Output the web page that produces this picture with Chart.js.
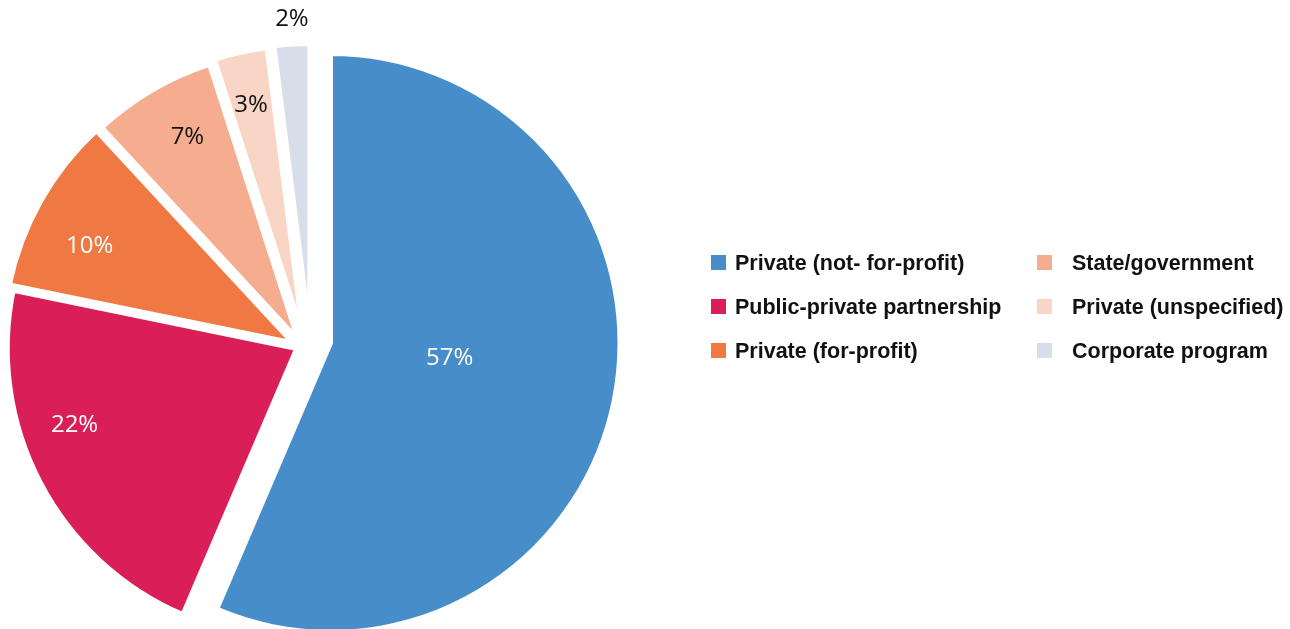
<!DOCTYPE html>
<html>
<head>
<meta charset="utf-8">
<script src="https://cdn.jsdelivr.net/npm/chart.js@4.4.1/dist/chart.umd.min.js"></script>
<style>
  html, body { margin: 0; padding: 0; background: #ffffff; overflow: hidden; }
  #wrap { position: relative; width: 1290px; height: 629px; }
  #pie { position: absolute; left: 0; top: 0; }
  .lg-item { position: absolute; height: 26px; line-height: 26px; white-space: nowrap;
             font-family: "Liberation Sans", Arial, sans-serif; font-weight: bold; font-size: 21.5px; color: #111111; }
  .lg-box { position: absolute; top: 5px; width: 15px; height: 15px; }
  .lg-text { position: absolute; top: 0; }
</style>
</head>
<body>
<div id="wrap">
  <canvas id="pie" width="1290" height="629"></canvas>
  <div id="legend"></div>
</div>
<script>
// ---- data ----
const categories = [
  'Private (not- for-profit)',
  'Public-private partnership',
  'Private (for-profit)',
  'State/government',
  'Private (unspecified)',
  'Corporate program'
];
const shares = [57, 22, 10, 7, 3, 2];

// ---- style ----
const colors = ['#468dca', '#da1f58', '#ef7843', '#f5ac8f', '#f9d5c6', '#d8dee9'];
const labelColors = ['#ffffff', '#ffffff', '#ffffff', '#111111', '#111111', '#111111'];
// how far each slice is pulled away from the pie centre (px, [dx, dy])
const explodeShift = [[24.5, 0], [-9.2, 5.5], [-13, 0], [-7.8, -3], [-3, -8], [3.8, -10]];
const labelRadius = [0.415, 0.812, 0.778, 0.797, 0.813, 1.085]; // fraction of radius
const labelTurn = [-4.4, 8.6, -3.9, 1.6, -0.3, 0.3];             // degrees off the bisector

const explodePlugin = {
  id: 'explode',
  beforeDatasetsDraw(chart) {
    const a = chart.chartArea;
    const cx = (a.left + a.right) / 2, cy = (a.top + a.bottom) / 2;
    chart.getDatasetMeta(0).data.forEach((arc, i) => {
      arc.x = cx + explodeShift[i][0];
      arc.y = cy + explodeShift[i][1];
    });
  }
};

const labelPlugin = {
  id: 'sliceLabels',
  afterDatasetsDraw(chart) {
    const ctx = chart.ctx;
    const ds = chart.data.datasets[0];
    ctx.save();
    ctx.font = '24px "Open Sans", "Noto Sans", sans-serif';
    ctx.textAlign = 'center';
    ctx.textBaseline = 'middle';
    chart.getDatasetMeta(0).data.forEach((arc, i) => {
      const mid = (arc.startAngle + arc.endAngle) / 2 + labelTurn[i] * Math.PI / 180;
      const r = arc.outerRadius * labelRadius[i];
      ctx.fillStyle = labelColors[i];
      ctx.fillText(ds.data[i] + '%', arc.x + Math.cos(mid) * r, arc.y + Math.sin(mid) * r);
    });
    ctx.restore();
  }
};

const chart = new Chart(document.getElementById('pie'), {
  type: 'pie',
  data: {
    labels: categories,
    datasets: [{
      data: shares,
      backgroundColor: colors,
      borderColor: '#ffffff',
      borderWidth: 5,
      radius: 289.5,
      clip: false
    }]
  },
  options: {
    responsive: false,
    animation: false,
    events: [],
    devicePixelRatio: 1,
    layout: { padding: { left: 0, right: 678, top: 57, bottom: 0 } },
    plugins: { legend: { display: false }, tooltip: { enabled: false } }
  },
  plugins: [explodePlugin, labelPlugin]
});

// ---- HTML legend built from the chart's own legend items ----
const legendEl = document.getElementById('legend');
const items = chart.options.plugins.legend.labels.generateLabels(chart);
const colBoxX = [711, 1037];
const colTextX = [735, 1072];
const rowTop = [250, 294, 338];
items.forEach((it, i) => {
  const col = Math.floor(i / 3), row = i % 3;
  const d = document.createElement('div');
  d.className = 'lg-item';
  d.style.left = '0px';
  d.style.top = rowTop[row] + 'px';
  const b = document.createElement('span');
  b.className = 'lg-box';
  b.style.left = colBoxX[col] + 'px';
  b.style.background = it.fillStyle;
  const t = document.createElement('span');
  t.className = 'lg-text';
  t.style.left = colTextX[col] + 'px';
  t.textContent = it.text;
  d.appendChild(b); d.appendChild(t);
  legendEl.appendChild(d);
});
</script>
</body>
</html>
